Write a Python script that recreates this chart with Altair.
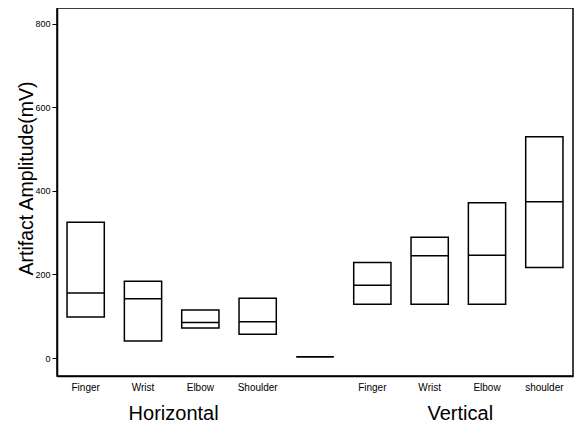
import altair as alt
import pandas as pd

FONT = "Liberation Sans, Arial, sans-serif"

labels = ["Finger", "Wrist", "Elbow", "Shoulder", "", "Finger", "Wrist", "Elbow", "shoulder"]
lows = [98, 41, 72, 57, 3, 129, 129, 129, 217]
medians = [156, 142, 85, 87, 3, 174, 245, 246, 374]
highs = [325, 184, 115, 143, 3, 229, 289, 372, 530]

group_names = ["Horizontal", "Vertical"]
group_anchor = [1, 6]  # slot index the group title sits after

y_ticks = [0, 200, 400, 600, 800]

keys = [f"{i}|{lab}" for i, lab in enumerate(labels)]
df = pd.DataFrame({"key": keys, "low": lows, "med": medians, "high": highs})
gdf = pd.DataFrame({"key": [keys[i] for i in group_anchor], "name": group_names})

xenc = alt.X(
    "key:N",
    sort=keys,
    scale=alt.Scale(paddingInner=0.35, paddingOuter=0.175),
    axis=alt.Axis(
        title=None,
        labelExpr="split(datum.label,'|')[1]",
        labelAngle=0,
        ticks=False,
        labelPadding=6,
        labelFont=FONT,
        labelFontSize=10,
        labelColor="black",
        domainColor="black",
        domainWidth=1.5,
    ),
)
yscale = alt.Scale(domain=[-43, 838], nice=False, zero=False)
yenc = alt.Y(
    "low:Q",
    scale=yscale,
    axis=alt.Axis(
        title="Artifact Amplitude(mV)",
        values=y_ticks,
        grid=False,
        tickSize=5,
        tickColor="black",
        tickWidth=1,
        labelPadding=2,
        labelFont=FONT,
        labelFontSize=9,
        labelColor="black",
        domainColor="black",
        domainWidth=1.5,
        titleFont=FONT,
        titleFontSize=19.5,
        titleFontWeight="normal",
        titleColor="black",
        titleY=170,
        titleX=-21,
        titleBaseline="bottom",
    ),
)

boxes = alt.Chart(df).mark_rect(fill="white", fillOpacity=0, stroke="black", strokeWidth=1.5).encode(
    x=xenc, y=yenc, y2="high:Q"
)
meds = alt.Chart(df).mark_rect(fillOpacity=0, stroke="black", strokeWidth=1.5).encode(
    x=alt.X("key:N", sort=keys),
    y=alt.Y("med:Q", scale=yscale),
    y2="med:Q",
)
groups = alt.Chart(gdf).mark_text(
    font=FONT, fontSize=20, color="black", baseline="middle", align="center", dx=12
).encode(
    x=alt.X("key:N", sort=keys, bandPosition=1),
    y=alt.value(406),
    text="name:N",
)

chart = (
    alt.layer(boxes, meds, groups)
    .properties(
        width=516,
        height=368,
        background="white",
        autosize=alt.AutoSizeParams(type="none"),
        padding={"left": 49, "top": 0, "right": 1, "bottom": 50},
    )
    .configure_view(stroke="black", strokeWidth=1.5)
)

chart.save("out.html", embed_options={"renderer": "svg", "actions": False})
